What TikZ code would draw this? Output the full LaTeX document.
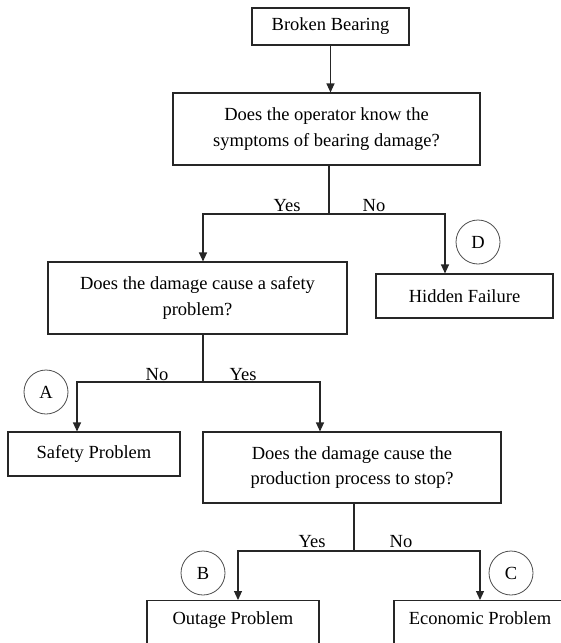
\documentclass[tikz,border=0pt]{standalone}
\usepackage{fontspec}
\setmainfont{Liberation Serif}
\usetikzlibrary{arrows.meta,positioning}

\begin{document}
\begin{tikzpicture}[
    x=1pt, y=-1pt,
    box/.style={
        rectangle,
        draw=black!85,
        line width=1.1pt,
        align=center,
        inner sep=0pt,
        fill=white,
        font=\fontsize{18.5}{25.5}\selectfont
    },
    endbox/.style={
        box,
        anchor=north,
        minimum width=172pt,
        text height=24pt,
        text depth=32pt
    },
    answer/.style={anchor=base, inner sep=0pt, font=\fontsize{18.5}{22}\selectfont},
    tag/.style={
        circle,
        draw=black!70,
        line width=0.8pt,
        minimum size=44pt,
        inner sep=0pt,
        font=\fontsize{18.5}{22}\selectfont
    },
    arrow/.style={-{Triangle[length=9pt,width=8pt]}, line width=1.1pt, draw=black!85},
    line/.style={line width=1.1pt, draw=black!85}
]

\useasboundingbox (0,0) rectangle (560,643);

% First question
\node[box, minimum width=157pt, minimum height=37pt] (bearing) at (330.5,26.5) {Broken Bearing};

\node[box, minimum width=307pt, minimum height=72pt] (operator) at (326.5,129) {Does the operator know the\\
symptoms of bearing damage?};

% Second level
\node[box, minimum width=299pt, minimum height=72pt] (safetyq) at (197.5,298) {Does the damage cause a safety\\
problem?};

\node[box, minimum width=177pt, minimum height=44pt] (hidden) at (464.5,296) {Hidden Failure};

% Third level
\node[box, minimum width=172pt, minimum height=44pt] (safetyprob) at (94,454) {Safety Problem};

\node[box, minimum width=298pt, minimum height=71pt] (production) at (352,467.5) {Does the damage cause the\\
production process to stop?};

% Bottom results
\node[endbox] (outage) at (233,600) {Outage Problem};
\node[endbox] (economic) at (480,600) {Economic Problem};

% Branch points
\coordinate (split1) at (329,214);
\coordinate (split2) at (203,382);
\coordinate (split3) at (354,551);

% Arrows
\draw[arrow] (bearing.south) -- (bearing.south |- operator.north);

\draw[line] (split1 |- operator.south) -- (split1);
\draw[arrow] (split1) -| ([xshift=5.5pt]safetyq.north);
\draw[arrow] (split1) -| ([xshift=-19.5pt]hidden.north);

\draw[line] (split2 |- safetyq.south) -- (split2);
\draw[arrow] (split2) -| ([xshift=-17pt]safetyprob.north);
\draw[arrow] (split2) -| ([xshift=-32pt]production.north);

\draw[line] (split3 |- production.south) -- (split3);
\draw[arrow] (split3) -| ([xshift=5pt]outage.north);
\draw[arrow] (split3) -| (economic.north);

% Answers
\node[answer] (yes1) at (287,211) {Yes};
\node[answer] (no1) at (374,211) {No};
\node[answer] (no2) at (157,380.5) {No};
\node[answer] (yes2) at (243,380.5) {Yes};
\node[answer] (yes3) at (312,547) {Yes};
\node[answer] (no3) at (401,547) {No};

% Letters
\node[tag] (tagd) at (478,242) {D};
\node[tag] (taga) at (46,392) {A};
\node[tag] (tagb) at (203,573) {B};
\node[tag] (tagc) at (511,573) {C};

\end{tikzpicture}
\end{document}
